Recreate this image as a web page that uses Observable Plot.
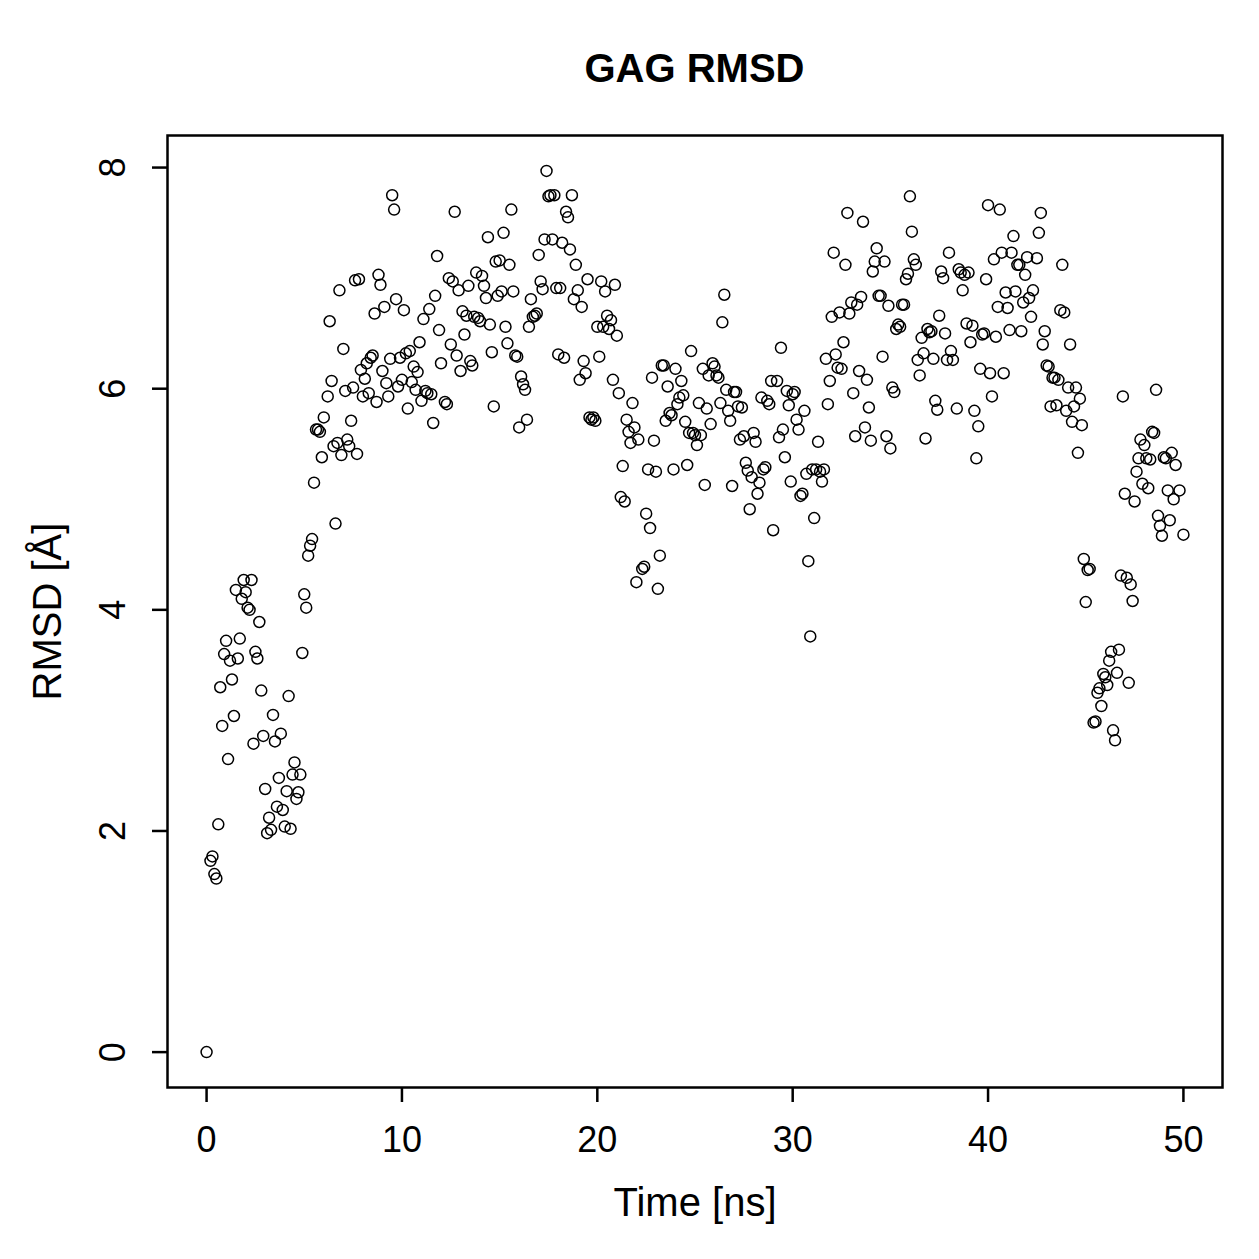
<!DOCTYPE html>
<html>
<head>
<meta charset="utf-8">
<script src="https://cdn.jsdelivr.net/npm/d3@7"></script>
<script src="https://cdn.jsdelivr.net/npm/@observablehq/plot@0.6"></script>
<style>
  html, body { margin: 0; padding: 0; background: #fff; }
  #wrap { width: 1259px; }
  #title { width: 1055px; margin-left: 167px; height: 100px; box-sizing: border-box; padding-top: 36px; line-height: 64px;
           text-align: center; font-family: "Liberation Sans", Arial, Helvetica, sans-serif; font-weight: bold; font-size: 40px; color: #000; }
</style>
</head>
<body>
<div id="wrap">
  <div id="title">GAG RMSD</div>
  <div id="chart"></div>
</div>
<script>
const time = [
0,0.2,0.3,0.4,0.5,0.6,0.7,0.8,0.9,1.0,1.1,1.2,1.3,1.4,1.5,1.6,1.7,1.8,1.9,2.0,2.1,2.2,2.3,2.4,2.5,2.6,2.7,2.8,2.9,3.0,
3.1,3.2,3.3,3.4,3.5,3.6,3.7,3.8,3.9,4.0,4.1,4.2,4.3,4.4,4.5,4.6,4.7,4.8,4.9,5.0,5.1,5.2,5.3,5.4,5.5,5.6,5.7,5.8,5.9,6.0,
6.2,6.3,6.4,6.5,6.6,6.7,6.8,6.9,7.0,7.1,7.2,7.3,7.4,7.5,7.6,7.7,7.8,7.9,8.0,8.1,8.2,8.3,8.4,8.5,8.6,8.7,8.8,8.9,9.0,9.1,
9.2,9.3,9.4,9.5,9.6,9.7,9.8,9.9,10.0,10.1,10.2,10.3,10.4,10.5,10.6,10.7,10.8,10.9,11.0,11.1,11.2,11.3,11.4,11.5,11.6,11.7,11.8,11.9,12.0,
12.2,12.3,12.4,12.5,12.6,12.7,12.8,12.9,13.0,13.1,13.2,13.3,13.4,13.5,13.6,13.7,13.8,13.9,14.0,14.1,14.2,14.3,14.4,14.5,14.6,14.7,14.8,14.9,15.0,
15.1,15.2,15.3,15.4,15.5,15.6,15.7,15.8,15.9,16.0,16.1,16.2,16.3,16.4,16.5,16.6,16.7,16.8,16.9,17.0,17.1,17.2,17.3,17.4,17.5,17.6,17.7,17.8,17.9,18.0,
18.1,18.2,18.3,18.4,18.5,18.6,18.7,18.8,18.9,19.0,19.1,19.2,19.3,19.4,19.5,19.6,19.7,19.8,19.9,20.0,20.1,20.2,20.3,20.4,20.5,20.6,20.7,20.8,20.9,21.0,
21.1,21.2,21.3,21.4,21.5,21.6,21.7,21.8,21.9,22.0,22.1,
22.3,22.4,22.5,22.6,22.7,22.8,22.9,23.0,23.1,23.2,23.3,23.4,23.5,23.6,23.7,23.8,23.9,24.0,24.1,24.2,24.3,24.4,24.5,24.6,24.7,24.8,24.9,25.0,
25.1,25.2,25.3,25.4,25.5,25.6,25.7,25.8,25.9,26.0,26.1,26.2,26.3,26.4,26.5,26.6,26.7,26.8,26.9,27.0,27.1,27.2,27.3,27.4,27.5,27.6,27.7,27.8,27.9,28.0,
28.1,28.2,28.3,28.4,28.5,28.6,28.7,28.8,28.9,29.0,29.2,29.3,29.4,29.5,29.6,29.7,29.8,29.9,30.0,30.1,30.2,30.3,30.4,30.5,30.6,30.7,30.8,30.9,31.0,
31.1,31.2,31.3,31.4,31.5,31.6,31.7,31.8,31.9,32.0,32.1,32.2,32.3,32.4,32.5,32.6,32.7,32.8,32.9,33.0,33.1,33.2,
33.3,33.4,33.5,33.6,33.7,33.8,33.9,34.0,34.1,34.2,34.3,34.4,34.5,34.6,34.7,34.8,34.9,35.0,35.1,35.2,35.3,35.4,35.5,35.6,35.7,35.8,35.9,36.0,
36.1,36.2,36.3,36.4,36.5,36.6,36.7,36.8,36.9,37.0,37.1,37.2,37.3,37.4,37.5,37.6,37.7,37.8,37.9,38.0,38.1,38.2,
38.4,38.5,38.6,38.7,38.8,38.9,39.0,39.1,39.2,39.3,39.4,39.5,39.6,39.7,39.8,39.9,40.0,40.1,40.2,40.3,40.4,40.5,40.6,40.7,40.8,40.9,41.0,
41.1,41.2,41.3,41.4,41.5,41.6,41.7,41.8,41.9,42.0,42.1,42.2,42.3,
42.5,42.6,42.7,42.8,42.9,43.0,43.1,43.2,43.3,43.4,43.5,43.6,43.7,43.8,43.9,44.0,44.1,44.2,44.3,44.4,44.5,44.6,44.7,44.8,44.9,45.0,45.1,45.2,
45.4,45.5,45.6,45.7,45.8,45.9,46.0,46.1,46.2,46.3,46.4,46.5,46.6,46.7,46.8,46.9,47.0,47.1,47.2,47.3,47.4,47.5,47.6,47.7,47.8,47.9,48.0,
48.1,48.2,48.3,48.4,48.5,48.6,48.7,48.8,48.9,49.0,49.1,49.2,49.3,49.4,49.5,49.6,49.8,50.0
];
const rmsd = [
0.00,1.73,1.77,1.61,1.57,2.06,3.30,2.95,3.60,3.72,2.65,3.54,3.37,3.04,4.18,3.56,3.74,4.10,4.27,4.16,4.02,4.00,4.27,2.79,3.62,3.56,3.89,3.27,2.86,2.38,
1.98,2.12,2.01,3.05,2.81,2.22,2.48,2.88,2.19,2.04,2.36,3.22,2.02,2.51,2.62,2.29,2.35,2.51,3.61,4.14,4.02,4.49,4.58,4.64,5.15,5.63,5.63,5.61,5.38,5.74,
5.93,6.61,6.07,5.48,4.78,5.51,6.89,5.40,6.36,5.98,5.54,5.48,5.71,6.01,6.98,5.41,6.99,6.17,5.93,6.09,6.23,5.96,6.28,6.30,6.68,5.88,7.03,6.94,6.16,6.74,
6.05,5.93,6.27,7.75,7.62,6.81,6.02,6.28,6.08,6.71,6.32,5.82,6.34,6.06,6.20,5.99,6.15,6.42,5.89,6.63,5.98,5.96,6.72,5.95,5.69,6.84,7.20,6.53,6.23,
5.88,5.86,7.00,6.40,6.97,7.60,6.30,6.89,6.16,6.70,6.49,6.66,6.93,6.25,6.21,6.65,7.05,6.64,6.61,7.02,6.93,6.82,7.37,6.58,6.33,5.84,7.15,6.84,7.16,
6.88,7.41,6.56,6.41,7.12,7.62,6.88,6.30,6.29,5.65,6.11,6.04,5.99,5.72,6.56,6.81,6.65,6.66,6.68,7.21,6.97,6.90,7.35,7.97,7.74,7.75,7.35,7.75,6.91,6.31,
6.91,7.32,6.28,7.60,7.55,7.26,7.75,6.81,7.12,6.89,6.08,6.74,6.25,6.14,6.99,5.74,5.72,5.74,5.71,6.56,6.29,6.97,6.56,6.88,6.66,6.54,6.62,6.08,6.94,6.48,
5.96,5.02,5.30,4.98,5.72,5.61,5.51,5.87,5.65,4.25,5.54,
4.37,4.39,4.87,5.27,4.74,6.10,5.53,5.25,4.19,4.49,6.21,6.21,5.71,6.02,5.78,5.76,5.27,6.18,5.86,5.92,6.07,5.94,5.70,5.31,5.60,6.34,5.60,5.58,
5.49,5.87,5.58,6.18,5.13,5.82,6.12,5.68,6.23,6.20,6.12,6.10,5.87,6.60,6.85,5.99,5.80,5.71,5.12,5.97,5.97,5.84,5.54,5.83,5.57,5.33,5.26,4.91,5.20,5.60,
5.52,5.05,5.15,5.92,5.27,5.29,5.89,5.86,6.07,4.72,6.07,5.56,6.37,5.63,5.38,5.98,5.85,5.16,5.95,5.97,5.72,5.63,5.03,5.05,5.80,5.23,4.44,3.76,5.27,
4.83,5.27,5.52,5.25,5.16,5.27,6.27,5.86,6.07,6.65,7.23,6.31,6.19,6.69,6.18,6.42,7.12,7.59,6.68,6.78,5.96,5.57,
6.76,6.16,6.83,7.51,5.65,6.08,5.83,5.53,7.06,7.15,7.27,6.84,6.84,6.29,7.15,5.57,6.75,5.46,6.01,5.97,6.54,6.58,6.56,6.76,6.76,6.99,7.04,7.74,
7.42,7.17,7.12,6.26,6.12,6.46,6.32,5.55,6.54,6.51,6.52,6.27,5.89,5.81,6.66,7.06,7.00,6.50,6.26,7.23,6.34,6.26,
5.82,7.08,7.05,6.89,7.03,6.59,7.05,6.42,6.57,5.80,5.37,5.66,6.18,6.49,6.50,6.99,7.66,6.14,5.93,7.17,6.47,6.74,7.62,7.23,6.14,6.87,6.73,
6.53,7.23,7.38,6.88,7.12,7.12,6.52,6.78,7.03,7.19,6.82,6.65,6.89,
7.18,7.41,7.59,6.40,6.52,6.21,6.20,5.84,6.10,6.10,5.85,6.08,6.71,7.12,6.69,5.80,6.01,6.40,5.70,5.84,6.01,5.42,5.91,5.67,4.46,4.07,4.36,4.37,
2.98,2.99,3.25,3.29,3.13,3.42,3.39,3.32,3.54,3.62,2.91,2.82,3.43,3.64,4.31,5.93,5.05,4.29,3.34,4.23,4.08,4.98,5.25,5.37,5.54,5.14,5.49,
5.37,5.10,5.36,5.61,5.60,5.99,4.85,4.76,4.67,5.38,5.37,5.08,4.81,5.42,5.00,5.31,5.08,4.68
];
const xTicks = [0, 10, 20, 30, 40, 50];
const yTicks = [0, 2, 4, 6, 8];
const xLabel = "Time [ns]";
const yLabel = "RMSD [Å]";

const n = Math.min(time.length, rmsd.length);
const data = d3.range(n).map(i => ({t: time[i], v: rmsd[i]}));

const font = "'Liberation Sans', Arial, Helvetica, sans-serif";
const chart = Plot.plot({
  width: 1259,
  height: 1159,
  marginLeft: 167,
  marginRight: 37,
  marginTop: 35,
  marginBottom: 172,
  x: {domain: [-2, 52], axis: null},
  y: {domain: [-0.32, 8.29], axis: null},
  style: {fontFamily: font, fontSize: "36px", background: "white", color: "black", overflow: "visible"},
  marks: [
    Plot.dot(data, {x: "t", y: "v", r: 5.5, stroke: "black", strokeWidth: 1.5, fill: "none"}),
    Plot.axisX(xTicks, {tickSize: 15, tickFormat: () => "", label: null, strokeWidth: 2.5, stroke: "black"}),
    Plot.axisY(yTicks, {tickSize: 15, tickFormat: () => "", label: null, strokeWidth: 2.5, stroke: "black"}),
    Plot.text(xTicks, {x: d => d, frameAnchor: "bottom", dy: 53, text: d => String(d), fontSize: 36, textAnchor: "middle", lineAnchor: "middle", fill: "black"}),
    Plot.text(yTicks, {y: d => d, frameAnchor: "left", dx: -54, rotate: -90, text: d => String(d), fontSize: 36, textAnchor: "middle", lineAnchor: "middle", fill: "black"}),
    Plot.text([xLabel], {frameAnchor: "bottom", dy: 116, text: d => d, fontSize: 40, textAnchor: "middle", lineAnchor: "middle", fill: "black"}),
    Plot.text([yLabel], {frameAnchor: "left", dx: -119, rotate: -90, text: d => d, fontSize: 40, textAnchor: "middle", lineAnchor: "middle", fill: "black"}),
    Plot.frame({stroke: "black", strokeWidth: 2.5})
  ]
});
document.getElementById("chart").appendChild(chart);
</script>
</body>
</html>
